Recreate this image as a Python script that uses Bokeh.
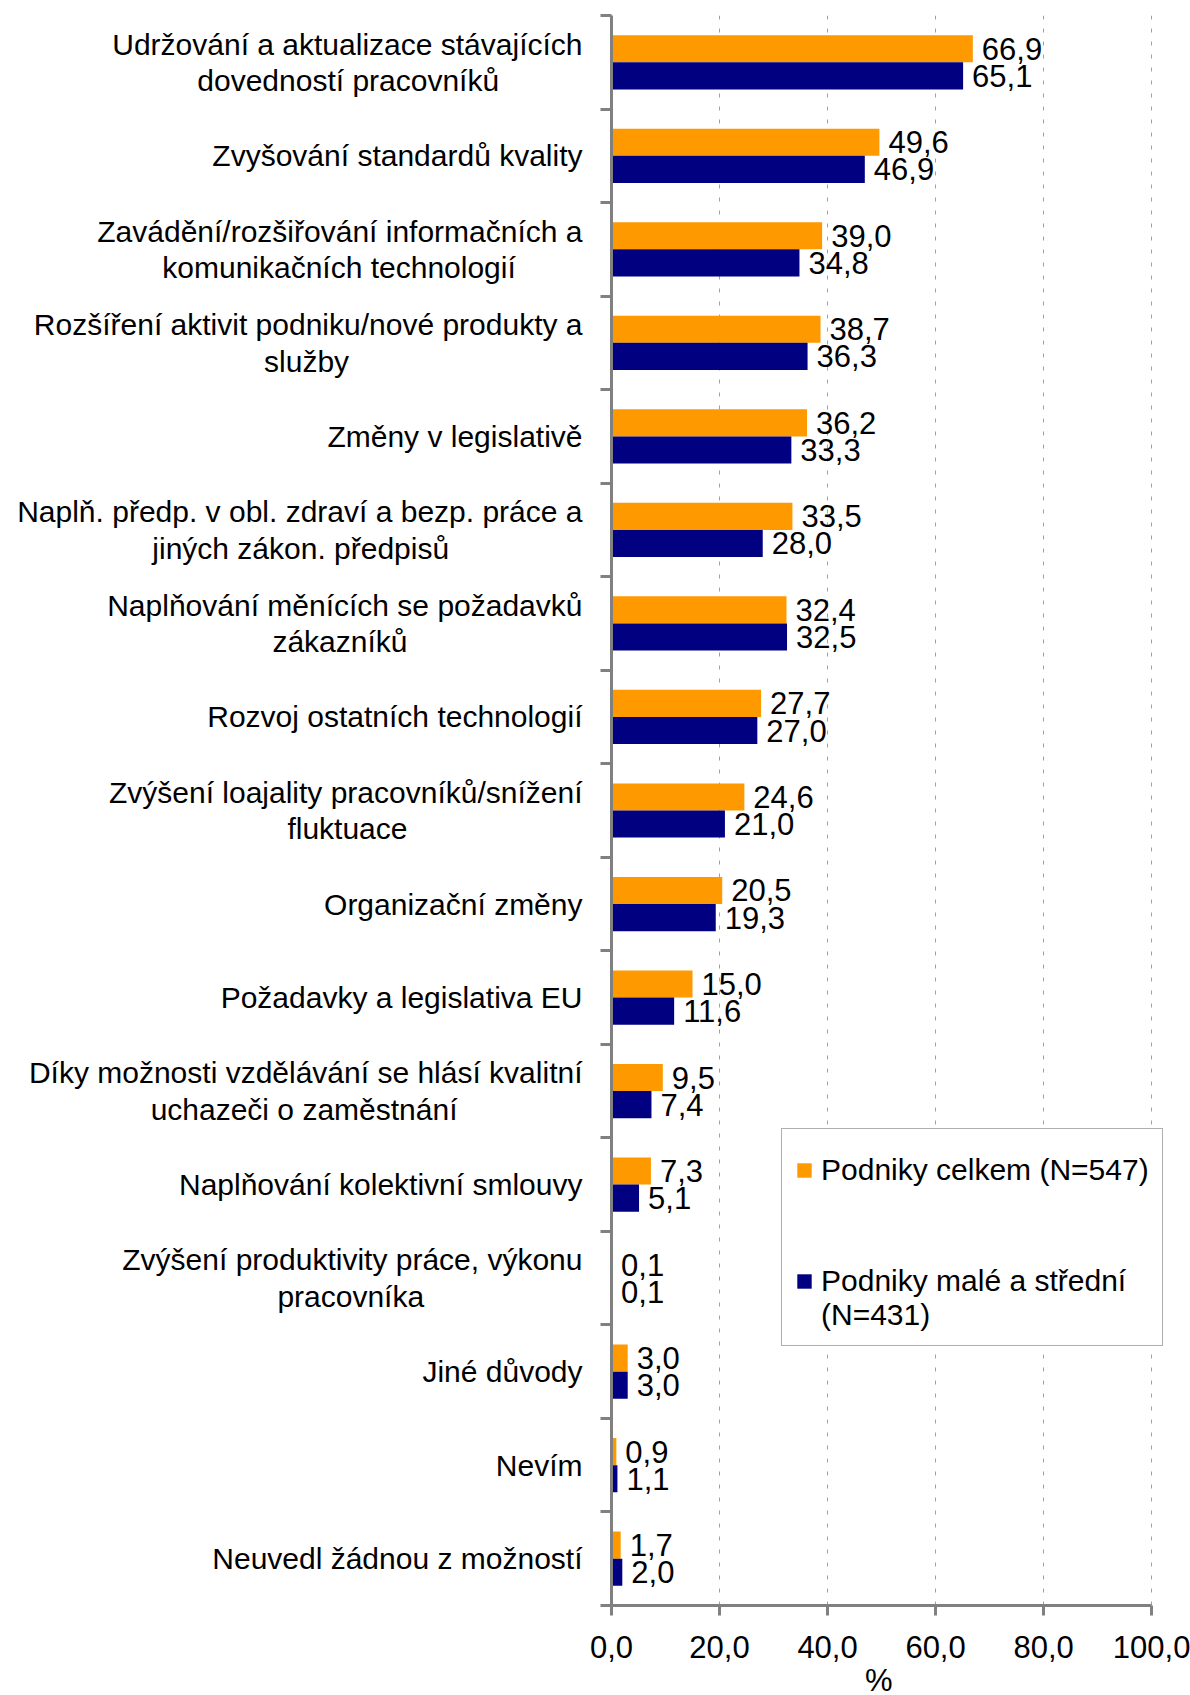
from bokeh.plotting import figure
from bokeh.models import (ColumnDataSource, Range1d, LinearAxis, FixedTicker, Legend, LegendItem)
from bokeh.core.properties import value
from bokeh.embed import file_html
from bokeh.resources import INLINE

categories = [
    "Udržování a aktualizace stávajících\ndovedností pracovníků",
    "Zvyšování standardů kvality",
    "Zavádění/rozšiřování informačních a\nkomunikačních technologií",
    "Rozšíření aktivit podniku/nové produkty a\nslužby",
    "Změny v legislativě",
    "Naplň. předp. v obl. zdraví a bezp. práce a\njiných zákon. předpisů",
    "Naplňování měnících se požadavků\nzákazníků",
    "Rozvoj ostatních technologií",
    "Zvýšení loajality pracovníků/snížení\nfluktuace",
    "Organizační změny",
    "Požadavky a legislativa EU",
    "Díky možnosti vzdělávání se hlásí kvalitní\nuchazeči o zaměstnání",
    "Naplňování kolektivní smlouvy",
    "Zvýšení produktivity práce, výkonu\npracovníka",
    "Jiné důvody",
    "Nevím",
    "Neuvedl žádnou z možností",
]
celkem = [66.9, 49.6, 39.0, 38.7, 36.2, 33.5, 32.4, 27.7, 24.6, 20.5, 15.0, 9.5, 7.3, 0.1, 3.0, 0.9, 1.7]
male_stredni = [65.1, 46.9, 34.8, 36.3, 33.3, 28.0, 32.5, 27.0, 21.0, 19.3, 11.6, 7.4, 5.1, 0.1, 3.0, 1.1, 2.0]
series_names = ["Podniky celkem (N=547)", "Podniky malé a střední\n(N=431)"]
x_ticks = [0, 20, 40, 60, 80, 100]
x_tick_labels = ["0,0", "20,0", "40,0", "60,0", "80,0", "100,0"]
x_title = "%"

# --- styling ---
FONT = "Liberation Sans"
FS_CAT = "30px"
FS_NUM = "31px"
ORANGE = "#FF9900"
NAVY = "#000080"
AXIS_GRAY = "#808080"
X_MAX = 102.2          # a little room right of 100 so the legend box is not clipped
PX_PER_UNIT = 5.4
# non-breaking-space padding that centres the second line of wrapped labels
SECOND_LINE_PAD = {0: 10, 2: 8, 3: 28, 5: 16, 6: 21, 8: 21, 11: 15, 13: 19}


def pad_label(i, txt):
    if "\n" not in txt:
        return txt
    a, b = txt.split("\n", 1)
    return a + "\n" + b + "\u00a0" * SECOND_LINE_PAD.get(i, 0)


N = len(categories)
pos = [N - i for i in range(N)]  # first category at the top
BH = 0.29

fmt = lambda v: f"{v:.1f}".replace(".", ",")
src = ColumnDataSource(dict(
    cat=categories, c=celkem, m=male_stredni,
    yc=[y + BH / 2 for y in pos], ym=[y - BH / 2 for y in pos],
    ct=[fmt(v) for v in celkem], mt=[fmt(v) for v in male_stredni],
))

p = figure(
    y_range=Range1d(0.5, N + 0.5),
    x_range=Range1d(0, X_MAX),
    frame_width=round(X_MAX * PX_PER_UNIT), frame_height=1590,
    min_border_left=611, min_border_top=15, min_border_right=27, min_border_bottom=88,
    output_backend="svg", toolbar_location=None,
    x_axis_location=None, y_axis_location=None,
)
p.outline_line_color = None
p.ygrid.visible = False

r1 = p.hbar(y="yc", right="c", left=0, height=BH, color=ORANGE, line_color=None, source=src)
r2 = p.hbar(y="ym", right="m", left=0, height=BH, color=NAVY, line_color=None, source=src)

p.text(x="c", y="yc", text="ct", source=src,
       x_offset=9, text_baseline="middle", text_align="left",
       text_font=value(FONT), text_font_size=FS_NUM, text_color="black")
p.text(x="m", y="ym", text="mt", source=src,
       x_offset=9, text_baseline="middle", text_align="left",
       text_font=value(FONT), text_font_size=FS_NUM, text_color="black")

# x axis
xa = LinearAxis(ticker=FixedTicker(ticks=x_ticks), bounds=(0, 100),
                major_label_overrides={t: l for t, l in zip(x_ticks, x_tick_labels)})
xa.axis_label = x_title + "\u00a0\u00a0"   # nudge so it centres under 0..100, not the whole frame
xa.axis_label_text_font = FONT
xa.axis_label_text_font_size = FS_NUM
xa.axis_label_text_font_style = "normal"
xa.axis_label_text_color = "black"
xa.axis_label_standoff = 2
xa.major_label_text_font = FONT
xa.major_label_text_font_size = FS_NUM
xa.major_label_text_color = "black"
xa.major_label_standoff = 20
xa.axis_line_color = AXIS_GRAY
xa.axis_line_width = 3
xa.major_tick_line_color = AXIS_GRAY
xa.major_tick_line_width = 3
xa.major_tick_out = 10
xa.major_tick_in = 0
xa.minor_tick_line_color = None
p.add_layout(xa, "below")

# grid
p.xgrid.ticker = FixedTicker(ticks=x_ticks[1:])
p.xgrid.grid_line_color = "#a0a0a0"
p.xgrid.grid_line_dash = "4 9"
p.xgrid.grid_line_width = 1

# y tick axis (ticks at category boundaries)
bounds = [i + 0.5 for i in range(N + 1)]
ta = LinearAxis(ticker=FixedTicker(ticks=bounds),
                major_label_overrides={b: "" for b in bounds})
ta.major_label_text_font_size = "1px"
ta.major_label_standoff = 0
ta.axis_line_color = AXIS_GRAY
ta.axis_line_width = 3
ta.major_tick_line_color = AXIS_GRAY
ta.major_tick_line_width = 3
ta.major_tick_out = 11
ta.major_tick_in = 0
ta.minor_tick_line_color = None
p.add_layout(ta, "left")

# category label axis
ca = LinearAxis(ticker=FixedTicker(ticks=pos),
                major_label_overrides={y: pad_label(i, c) for i, (y, c) in enumerate(zip(pos, categories))})
ca.axis_line_color = None
ca.major_tick_line_color = None
ca.minor_tick_line_color = None
ca.major_label_text_font = FONT
ca.major_label_text_font_size = FS_CAT
ca.major_label_text_color = "black"
ca.major_label_text_line_height = 1.1
ca.major_label_standoff = 12
p.add_layout(ca, "left")

legend = Legend(items=[LegendItem(label=series_names[0], renderers=[r1]),
                       LegendItem(label="\n" + series_names[1], renderers=[r2])],
                location=(170, 259))
legend.label_text_font = FONT
legend.label_text_font_size = FS_CAT
legend.label_text_color = "black"
legend.label_text_line_height = 1.1
legend.label_height = 55
legend.glyph_width = 18
legend.glyph_height = 18
legend.spacing = 33
legend.padding = 13
legend.margin = 0
legend.label_standoff = 8
legend.border_line_color = "#606060"
legend.border_line_width = 1
legend.background_fill_alpha = 1
p.add_layout(legend, "center")

open("out.html", "w").write(file_html(p, INLINE))
